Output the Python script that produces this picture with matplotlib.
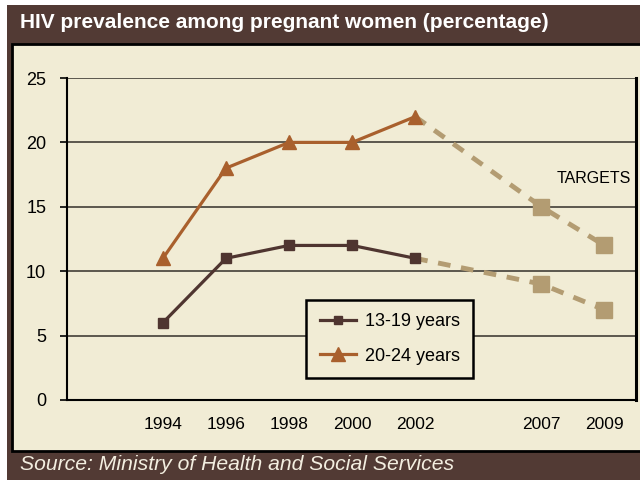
import numpy as np
import matplotlib
matplotlib.use("Agg")
import matplotlib.pyplot as plt
from matplotlib.patches import Rectangle
from matplotlib.lines import Line2D

# ── Data ────────────────────────────────────────────────────────────────────
years = ["1994", "1996", "1998", "2000", "2002", "2007", "2009"]
teen_actual = [6, 11, 12, 12, 11]          # 13-19 years, 1994-2002
young_actual = [11, 18, 20, 20, 22]        # 20-24 years, 1994-2002
teen_target = [9, 7]                       # 2007, 2009
young_target = [15, 12]
y_ticks = [0, 5, 10, 15, 20, 25]

BANNER = "#523a34"
CREAM = "#f1ecd5"
TEEN_C = "#4f3530"
YOUNG_C = "#a9602d"
TARGET_C = "#b39c72"
SANS = ["Liberation Sans", "DejaVu Sans"]

# categorical x positions, with one empty slot before the target years
yr = np.array(years).astype(int)
x_pos = np.arange(len(years)) + (yr > 2002)
n_act = len(teen_actual)

fig = plt.figure(figsize=(6.4, 4.8), dpi=100)
fig.patch.set_facecolor("white")

# dark frame + cream panel
fig.patches.append(Rectangle((7 / 640, 0), 1, 1 - 5 / 480, transform=fig.transFigure,
                             facecolor=BANNER, edgecolor="none", zorder=-10))
fig.patches.append(Rectangle((12 / 640, 1 - 451 / 480), 1, (451 - 44) / 480,
                             transform=fig.transFigure, facecolor=CREAM,
                             edgecolor="black", linewidth=2, zorder=-9))

fig.text(20 / 640, 1 - 23 / 480, "HIV prevalence among pregnant women (percentage)",
         color="white", fontsize=15, fontweight="bold", family=SANS, va="center")
fig.text(20 / 640, 1 - 464 / 480, "Source: Ministry of Health and Social Services",
         color="#f3eee0", fontsize=15.2, style="italic", family=SANS, va="center")

ax = fig.add_axes([67 / 640, 1 - 400 / 480, (636 - 67) / 640, (400 - 78) / 480])
ax.set_facecolor("none")

# gridlines
for t in y_ticks[1:]:
    ax.axhline(t, color="#333029", linewidth=1.1, zorder=1)

# target dashed lines, starting from the last actual point
ax.plot(np.r_[x_pos[n_act - 1], x_pos[n_act:]], np.r_[teen_actual[-1], teen_target],
        color=TARGET_C, linewidth=3.5, dashes=(2.6, 2.2), zorder=2)
ax.plot(np.r_[x_pos[n_act - 1], x_pos[n_act:]], np.r_[young_actual[-1], young_target],
        color=TARGET_C, linewidth=3.5, dashes=(2.6, 2.2), zorder=2)
ax.plot(x_pos[n_act:], teen_target, linestyle="none", marker="s", markersize=12,
        color=TARGET_C, zorder=3)
ax.plot(x_pos[n_act:], young_target, linestyle="none", marker="s", markersize=12,
        color=TARGET_C, zorder=3)

# actual values
ax.plot(x_pos[:n_act], teen_actual, color=TEEN_C, linewidth=2.3, marker="s",
        markersize=7, zorder=4)
ax.plot(x_pos[:n_act], young_actual, color=YOUNG_C, linewidth=2.3, marker="^",
        markersize=10, zorder=4)

ax.set_xlim(-1.52, 7.5)
ax.set_ylim(0, 25)
ax.set_yticks(y_ticks)
ax.set_yticklabels([str(t) for t in y_ticks], fontsize=13, family=SANS)
ax.set_xticks(x_pos)
ax.set_xticklabels(years, fontsize=12.5, family=SANS)
ax.tick_params(axis="x", length=0, pad=12)
ax.tick_params(axis="y", length=5, width=1.2, pad=10)

for side in ["left", "bottom"]:
    ax.spines[side].set_linewidth(1.5)
ax.spines["right"].set_linewidth(2.2)
ax.spines["top"].set_visible(False)

ax.text(x_pos[-1] - 0.17, 17.2, "TARGETS", fontsize=11.5, family=SANS,
        ha="center", va="center")

handles = [
    Line2D([], [], color=TEEN_C, linewidth=2.3, marker="s", markersize=6),
    Line2D([], [], color=YOUNG_C, linewidth=2.3, marker="^", markersize=10),
]
leg = ax.legend(handles, ["13-19 years", "20-24 years"], loc="lower left",
                bbox_to_anchor=(0.42, 0.068), prop={"family": SANS, "size": 13},
                frameon=True, fancybox=False, handlelength=2.0, borderpad=0.75,
                labelspacing=0.95, handletextpad=0.5, borderaxespad=0)
leg.get_frame().set_facecolor(CREAM)
leg.get_frame().set_edgecolor("black")
leg.get_frame().set_linewidth(1.8)
leg.get_frame().set_alpha(1)

fig.savefig("out.png", dpi=100)
